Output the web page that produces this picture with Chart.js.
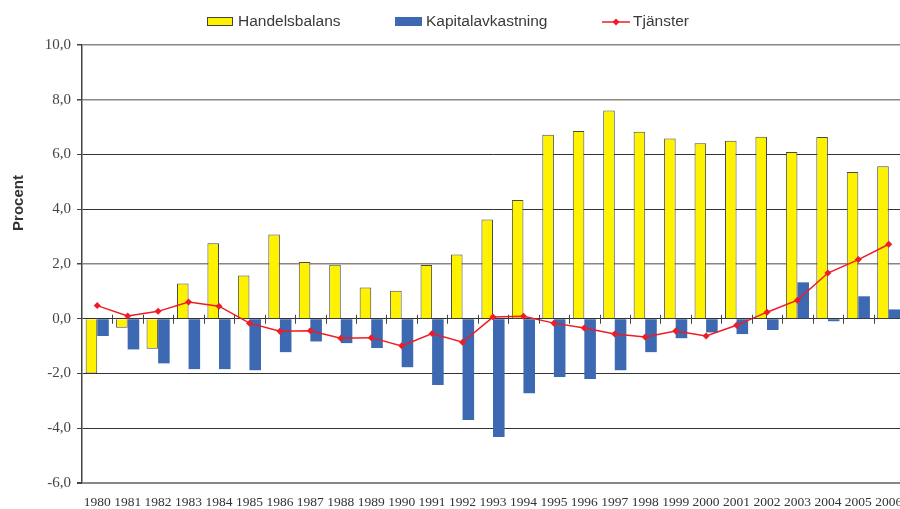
<!DOCTYPE html>
<html>
<head>
<meta charset="utf-8">
<script src="https://cdn.jsdelivr.net/npm/chart.js@4"></script>
<style>
html,body{margin:0;padding:0;background:#fff;overflow:hidden;}
#c{display:block;width:908px;height:509px;}
</style>
</head>
<body>
<canvas id="c" width="908" height="509"></canvas>
<script>
const years = ['1980','1981','1982','1983','1984','1985','1986','1987','1988','1989','1990','1991','1992','1993','1994','1995','1996','1997','1998','1999','2000','2001','2002','2003','2004','2005','2006'];
const handelsbalans = [-2.0,-0.33,-1.1,1.29,2.76,1.58,3.08,2.07,1.97,1.14,1.02,1.96,2.35,3.63,4.34,6.72,6.86,7.61,6.83,6.58,6.41,6.50,6.65,6.09,6.64,5.36,5.57];
const kapitalavkastning = [-0.63,-1.12,-1.63,-1.84,-1.84,-1.88,-1.22,-0.83,-0.89,-1.07,-1.77,-2.42,-3.70,-4.32,-2.72,-2.13,-2.20,-1.88,-1.22,-0.71,-0.50,-0.56,-0.41,1.33,-0.09,0.82,0.34];
const tjanster = [0.48,0.10,0.27,0.61,0.46,-0.16,-0.46,-0.44,-0.71,-0.69,-0.99,-0.54,-0.86,0.06,0.09,-0.16,-0.34,-0.56,-0.67,-0.45,-0.63,-0.24,0.24,0.68,1.67,2.16,2.72];
const seriesNames = ['Handelsbalans','Kapitalavkastning','Tjänster'];
const yTicks = [-6,-4,-2,0,2,4,6,8,10];
const axisTitle = 'Procent';

const YELLOW = '#fff200', BLUE = '#3d68b2', RED = '#ee1d25';

const decor = {
  id: 'decor',
  afterDatasetsDraw(chart) {
    const ctx = chart.ctx, x = chart.scales.x, y = chart.scales.y;
    const y0 = y.getPixelForValue(0);
    const half = (x.getPixelForValue(1) - x.getPixelForValue(0)) / 2;
    ctx.save();
    ctx.strokeStyle = '#444';
    ctx.lineWidth = 1;
    for (let i = 1; i < years.length; i++) {
      const px = Math.round(x.getPixelForValue(i) - half) + 0.5;
      ctx.beginPath(); ctx.moveTo(px, y0 - 4); ctx.lineTo(px, y0 + 5); ctx.stroke();
    }
    ctx.restore();
  },
  afterDraw(chart) {
    const ctx = chart.ctx;
    ctx.save();
    ctx.translate(19, 203);
    ctx.rotate(-Math.PI / 2);
    ctx.font = 'bold 15px "Liberation Sans", Arial, sans-serif';
    ctx.fillStyle = '#333';
    ctx.textAlign = 'center';
    ctx.textBaseline = 'middle';
    ctx.fillText(axisTitle, 0, 0);
    ctx.restore();
    ctx.save();
    ctx.font = '15.5px "Liberation Sans", Arial, sans-serif';
    ctx.textBaseline = 'middle';
    const ly = 22;
    const ds = chart.data.datasets;
    ctx.fillStyle = ds[0].backgroundColor;
    ctx.fillRect(207, 17, 26, 9);
    ctx.strokeStyle = '#444'; ctx.lineWidth = 1;
    ctx.strokeRect(207.5, 17.5, 25, 8);
    ctx.fillStyle = '#3a3a3a';
    ctx.fillText(ds[0].label, 238, ly);
    ctx.fillStyle = ds[1].backgroundColor;
    ctx.fillRect(395, 17, 27, 9);
    ctx.fillStyle = '#3a3a3a';
    ctx.fillText(ds[1].label, 426, ly);
    ctx.strokeStyle = ds[2].borderColor; ctx.lineWidth = 1.5;
    ctx.beginPath(); ctx.moveTo(602, ly); ctx.lineTo(630, ly); ctx.stroke();
    ctx.fillStyle = ds[2].borderColor;
    ctx.beginPath(); ctx.moveTo(616, ly - 3.5); ctx.lineTo(619.5, ly); ctx.lineTo(616, ly + 3.5); ctx.lineTo(612.5, ly); ctx.closePath(); ctx.fill();
    ctx.fillStyle = '#3a3a3a';
    ctx.fillText(ds[2].label, 633, ly);
    ctx.restore();
  }
};

new Chart(document.getElementById('c'), {
  type: 'bar',
  data: {
    labels: years,
    datasets: [
      { label: seriesNames[0], data: handelsbalans, backgroundColor: YELLOW, borderColor: '#4a4a4a', borderWidth: 1, order: 1, barPercentage: 1, categoryPercentage: 0.76 },
      { label: seriesNames[1], data: kapitalavkastning, backgroundColor: BLUE, borderWidth: 0, order: 1, barPercentage: 1, categoryPercentage: 0.76 },
      { type: 'line', label: seriesNames[2], data: tjanster, borderColor: RED, backgroundColor: RED, borderWidth: 1.5, pointStyle: 'rectRot', pointRadius: 3.5, pointBorderWidth: 0, pointBackgroundColor: RED, order: 0, tension: 0 }
    ]
  },
  options: {
    responsive: false,
    maintainAspectRatio: false,
    animation: false,
    layout: { padding: { top: 45, left: 0, right: 0, bottom: 0 } },
    plugins: { legend: { display: false }, tooltip: { enabled: false } },
    scales: {
      x: {
        grid: { display: true, drawOnChartArea: false, drawTicks: true, tickLength: 10, tickColor: 'rgba(0,0,0,0)' },
        border: { display: false },
        ticks: { color: '#333', font: { family: '"Liberation Serif", "Times New Roman", serif', size: 13.5 }, padding: 1, autoSkip: false, maxRotation: 0 },
        afterFit(s) { s.height = 26; s.paddingRight = 0; s.paddingLeft = 0; }
      },
      y: {
        min: -6, max: 10,
        afterBuildTicks(s) { s.ticks = yTicks.map(v => ({ value: v })); },
        grid: {
          color(c) { const v = c.tick && c.tick.value; return (v === 10 || v === 8 || v === -6 || v === 2) ? '#8c8682' : '#333'; },
          lineWidth(c) { const v = c.tick && c.tick.value; return (v === -6) ? 2 : (v === 10 || v === 8 || v === 2) ? 1.5 : 1; },
          tickLength: 5,
          tickColor: '#444'
        },
        border: { display: true, color: '#444', width: 1.5 },
        ticks: {
          color: '#444', padding: 6,
          font: { family: '"Liberation Serif", "Times New Roman", serif', size: 15 },
          callback: v => v.toFixed(1).replace('.', ',')
        },
        afterFit(s) { s.width = 82; }
      }
    }
  },
  plugins: [decor]
});
</script>
</body>
</html>
